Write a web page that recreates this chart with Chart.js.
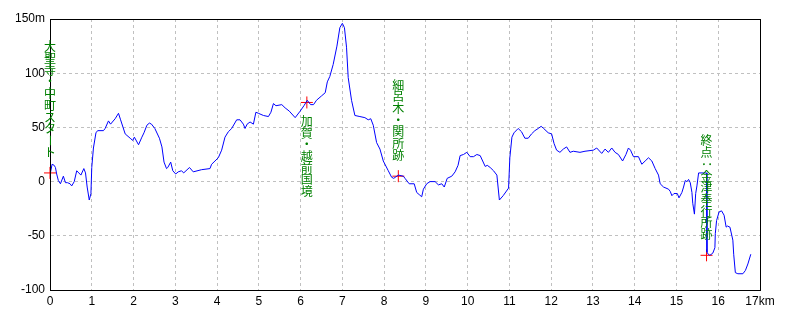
<!DOCTYPE html>
<html lang="ja">
<head>
    <meta charset="UTF-8">
    <title>標高グラフ</title>
    <script src="https://cdn.jsdelivr.net/npm/chart.js"></script>
    <style>
        body {
            margin: 0;
            background-color: #fff;
        }
    </style>
</head>
<body>
    <canvas id="profileChart" width="800" height="320"></canvas>

    <script>
        // Distance along the route (km)
        const distances = [
            0, 0.01, 0.05, 0.1, 0.13, 0.16, 0.2, 0.25, 0.32, 0.37, 0.42, 0.48, 0.52, 0.58, 0.64, 0.69,
            0.74, 0.81, 0.85, 0.89, 0.94, 0.98, 1.0, 1.04, 1.1, 1.14, 1.28, 1.32, 1.4, 1.45, 1.56, 1.64,
            1.69, 1.8, 1.92, 1.98, 2.02, 2.12, 2.2, 2.25, 2.32, 2.38, 2.43, 2.51, 2.62, 2.68, 2.73, 2.79,
            2.82, 2.89, 2.94, 3.01, 3.07, 3.15, 3.2, 3.34, 3.43, 3.63, 3.83, 3.87, 3.95, 4.03, 4.11, 4.19,
            4.27, 4.35, 4.47, 4.55, 4.63, 4.67, 4.72, 4.79, 4.87, 4.93, 4.99, 5.11, 5.23, 5.29, 5.35, 5.41,
            5.55, 5.63, 5.73, 5.87, 5.99, 6.08, 6.16, 6.24, 6.31, 6.38, 6.5, 6.59, 6.64, 6.7, 6.78, 6.87,
            6.94, 7.0, 7.05, 7.1, 7.14, 7.22, 7.3, 7.42, 7.54, 7.62, 7.68, 7.74, 7.82, 7.9, 7.98, 8.1,
            8.18, 8.23, 8.34, 8.46, 8.5, 8.6, 8.72, 8.78, 8.84, 8.9, 8.94, 9.02, 9.1, 9.22, 9.3, 9.38,
            9.44, 9.51, 9.62, 9.7, 9.77, 9.82, 9.9, 9.98, 10.06, 10.14, 10.22, 10.3, 10.36, 10.42, 10.47, 10.54,
            10.62, 10.7, 10.76, 10.85, 10.98, 11.01, 11.06, 11.11, 11.21, 11.29, 11.37, 11.45, 11.53, 11.61, 11.69, 11.76,
            11.82, 11.93, 12.01, 12.07, 12.13, 12.21, 12.29, 12.37, 12.45, 12.53, 12.69, 12.81, 13.01, 13.09, 13.21, 13.29,
            13.37, 13.45, 13.53, 13.61, 13.71, 13.79, 13.85, 13.9, 13.97, 14.09, 14.17, 14.25, 14.33, 14.41, 14.49, 14.57,
            14.61, 14.69, 14.81, 14.85, 14.89, 14.94, 15.02, 15.06, 15.13, 15.17, 15.21, 15.25, 15.29, 15.33, 15.37, 15.39,
            15.43, 15.46, 15.49, 15.53, 15.65, 15.72, 15.73, 15.76, 15.8, 15.87, 15.92, 15.93, 15.96, 16.02, 16.08, 16.14,
            16.19, 16.22, 16.28, 16.35, 16.37, 16.41, 16.47, 16.59, 16.65, 16.71, 16.78
        ];

        // Elevation (m)
        const elevations = [
            -16, 8, 16, 15, 13, 7, 1, -2, 5, -1, -1, -2, -4, 0, 10, 8,
            6, 12, 8, -5, -17, -11, 13, 31, 45, 47, 47, 49, 56, 53, 58, 63,
            57, 44, 40, 38, 41, 34, 41, 45, 52, 54, 53, 49, 40, 32, 18, 12,
            13, 18, 10, 7, 9, 10, 8, 13, 9, 11, 12, 16, 19, 22, 29, 41,
            46, 49, 57, 57, 53, 49, 53, 55, 53, 64, 63, 61, 60, 64, 72, 70,
            71, 68, 65, 59, 65, 70, 75, 71, 71, 75, 79, 82, 92, 97, 108, 125,
            142, 146, 142, 124, 96, 75, 61, 60, 59, 57, 58, 52, 36, 30, 19, 10,
            4, 3, 6, 5, 3, -2, -2, -10, -12, -14, -7, -2, 0, 0, -3, -2,
            -5, 3, 5, 9, 15, 24, 25, 27, 23, 23, 25, 24, 19, 14, 15, 13,
            10, 6, -17, -13, -6, 22, 41, 45, 49, 46, 40, 40, 44, 47, 49, 51,
            49, 45, 44, 35, 29, 27, 30, 32, 27, 28, 27, 28, 29, 31, 26, 30,
            27, 31, 27, 25, 19, 25, 31, 29, 23, 23, 16, 19, 22, 19, 12, 6,
            -2, -5, -7, -9, -13, -11, -11, -15, -10, -5, 1, 0, 2, -1, -10, -20,
            -30, -11, -4, 8, 8, 8, -65, -67, -68, -66, -61, -48, -36, -28, -27, -31,
            -42, -41, -42, -54, -67, -84, -85, -85, -82, -76, -67
        ];

        // Waypoints
        const pointNames = ['大聖寺・中町スタート', '加賀・越前国境', '細呂木・関所跡', '終点：金津奉行所跡'];
        const pointKm = [0, 6.15, 8.34, 15.72];
        const pointElev = [8, 73, 5, -68];
        const labelBelow = [false, true, false, false];

        const yTicks = [-100, -50, 0, 50, 100, 150];

        const profile = distances.map((d, i) => ({ x: d, y: elevations[i] }));
        const waypoints = pointKm.map((d, i) => ({ x: d, y: pointElev[i] }));

        // black frame around the plot area
        const frame = {
            id: 'frame',
            afterDraw(chart) {
                const { ctx, chartArea: a } = chart;
                ctx.save();
                ctx.strokeStyle = '#000';
                ctx.lineWidth = 1;
                ctx.strokeRect(a.left + 0.5, a.top + 0.5, a.right - a.left, a.bottom - a.top);
                ctx.restore();
            }
        };

        // vertical place names next to the red crosses
        const placeLabels = {
            id: 'placeLabels',
            afterDraw(chart) {
                const { ctx } = chart;
                const xs = chart.scales.x, ys = chart.scales.y;
                const step = 11.7;
                ctx.save();
                ctx.fillStyle = '#008000';
                ctx.font = '12px "Noto Sans CJK JP"';
                ctx.textAlign = 'center';
                ctx.textBaseline = 'middle';
                pointNames.forEach((name, i) => {
                    const px = xs.getPixelForValue(pointKm[i]);
                    const py = ys.getPixelForValue(pointElev[i]);
                    const chars = Array.from(name);
                    let top = labelBelow[i] ? py + 13 : py - 15 - chars.length * step;
                    chars.forEach((c, k) => {
                        const cy = top + step * k + step / 2;
                        if (c === 'ー' || c === '：') {
                            ctx.save();
                            ctx.translate(px, cy);
                            ctx.rotate(Math.PI / 2);
                            ctx.fillText(c, 0, 0);
                            ctx.restore();
                        } else {
                            ctx.fillText(c, px, cy);
                        }
                    });
                });
                ctx.restore();
            }
        };

        new Chart(document.getElementById('profileChart'), {
            type: 'line',
            data: {
                datasets: [{
                    label: '標高',
                    data: profile,
                    borderColor: '#0000ff',
                    borderWidth: 1,
                    pointRadius: 0,
                    tension: 0
                }, {
                    type: 'scatter',
                    label: '地点',
                    data: waypoints,
                    pointStyle: 'cross',
                    pointRadius: 6,
                    borderColor: '#ff0000',
                    backgroundColor: '#ff0000',
                    borderWidth: 1,
                    clip: false
                }]
            },
            options: {
                responsive: false,
                animation: false,
                layout: {
                    padding: { top: 19, right: 40, left: 0, bottom: 0 }
                },
                scales: {
                    x: {
                        type: 'linear',
                        min: 0,
                        max: 17,
                        afterFit: s => { s.height = 30; },
                        ticks: {
                            stepSize: 1,
                            padding: 4,
                            color: '#000',
                            font: { family: 'Liberation Sans', size: 12 },
                            callback: v => v === 17 ? '17km' : v
                        },
                        grid: { color: '#c0c0c0', drawTicks: false },
                        border: { color: '#000', dash: [3, 3] }
                    },
                    y: {
                        min: -100,
                        max: 150,
                        afterFit: s => { s.width = 50; },
                        afterBuildTicks: s => { s.ticks = yTicks.map(v => ({ value: v })); },
                        ticks: {
                            padding: 5,
                            color: '#000',
                            font: { family: 'Liberation Sans', size: 12 },
                            callback: v => v === 150 ? '150m' : v
                        },
                        grid: { color: '#c0c0c0', drawTicks: false },
                        border: { color: '#000', dash: [3, 3] }
                    }
                },
                plugins: {
                    legend: { display: false },
                    tooltip: { enabled: false }
                }
            },
            plugins: [frame, placeLabels]
        });
    </script>
</body>
</html>
